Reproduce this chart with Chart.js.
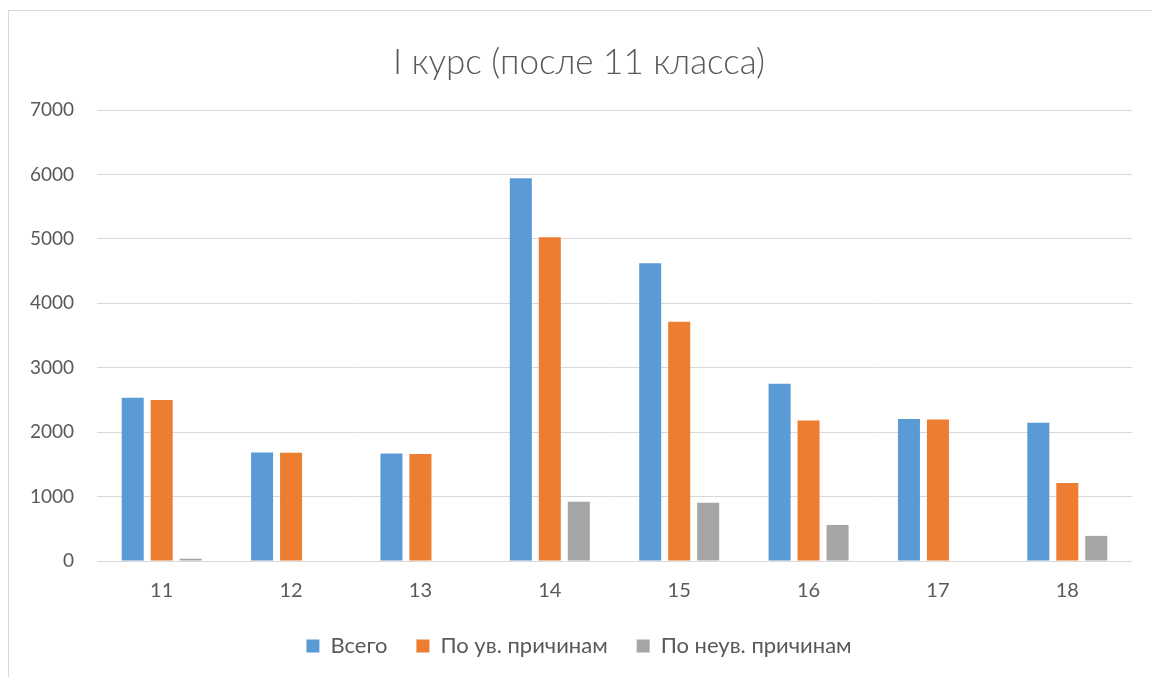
<!DOCTYPE html>
<html>
<head>
<meta charset="utf-8">
<script src="https://cdn.jsdelivr.net/npm/chart.js@4/dist/chart.umd.min.js"></script>
<style>
html,body{margin:0;padding:0;background:#fff;}
#wrap{position:absolute;left:0;top:0;width:1152px;height:677px;}
</style>
</head>
<body>
<div id="wrap"><canvas id="c" width="1152" height="677"></canvas></div>
<script>
const categories = ['11','12','13','14','15','16','17','18'];
const seriesNames = ['Всего','По ув. причинам','По неув. причинам'];
const totalValues = [2535, 1685, 1670, 5940, 4620, 2750, 2205, 2145];
const excusedValues = [2500, 1680, 1660, 5025, 3715, 2180, 2195, 1210];
const unexcusedValues = [35, 0, 0, 918, 905, 560, 0, 390];
const yTicks = [0, 1000, 2000, 3000, 4000, 5000, 6000, 7000];
const titleText = 'I курс (после 11 класса)';
const colors = ['#5b9bd5', '#ed7d31', '#a5a5a5'];

const borderPlugin = {
  id: 'outerBorder',
  beforeDraw(chart) {
    const ctx = chart.ctx;
    ctx.save();
    ctx.fillStyle = '#ffffff';
    ctx.fillRect(0, 0, chart.width, chart.height);
    ctx.strokeStyle = '#d9d9d9';
    ctx.lineWidth = 1;
    ctx.strokeRect(8.5, 10.5, 1300, 900);
    ctx.restore();
  }
};

new Chart(document.getElementById('c'), {
  type: 'bar',
  data: {
    labels: categories,
    datasets: [
      { label: seriesNames[0], data: totalValues, backgroundColor: colors[0] },
      { label: seriesNames[1], data: excusedValues, backgroundColor: colors[1] },
      { label: seriesNames[2], data: unexcusedValues, backgroundColor: colors[2] }
    ]
  },
  options: {
    responsive: false,
    animation: false,
    devicePixelRatio: 1,
    layout: { padding: { left: 26, right: 20, top: 10, bottom: 10 } },
    datasets: { bar: { categoryPercentage: 0.672, barPercentage: 0.76 } },
    plugins: {
      title: {
        display: true,
        text: titleText,
        color: '#595959',
        font: { family: 'Lato', size: 35, weight: '300' },
        padding: { top: 32, bottom: 26 }
      },
      legend: {
        position: 'bottom',
        labels: {
          color: '#595959',
          font: { family: 'Lato', size: 22 },
          boxWidth: 13, boxHeight: 13,
          padding: 29
        }
      },
      tooltip: { enabled: false }
    },
    scales: {
      x: {
        grid: { display: false },
        border: { display: false },
        ticks: { color: '#595959', font: { family: 'Lato', size: 20 }, padding: 10 },
        afterFit(scale) { scale.height = 45; }
      },
      y: {
        min: 0, max: 7000,
        afterBuildTicks(axis) { axis.ticks = yTicks.map(v => ({ value: v })); },
        grid: { color: '#d9d9d9', drawTicks: false, lineWidth: 1 },
        border: { display: false },
        ticks: { color: '#595959', font: { family: 'Lato', size: 19 }, padding: 23,
                 callback: (v) => String(v) },
        afterFit(scale) { scale.width = 71; }
      }
    }
  },
  plugins: [borderPlugin]
});
</script>
</body>
</html>
